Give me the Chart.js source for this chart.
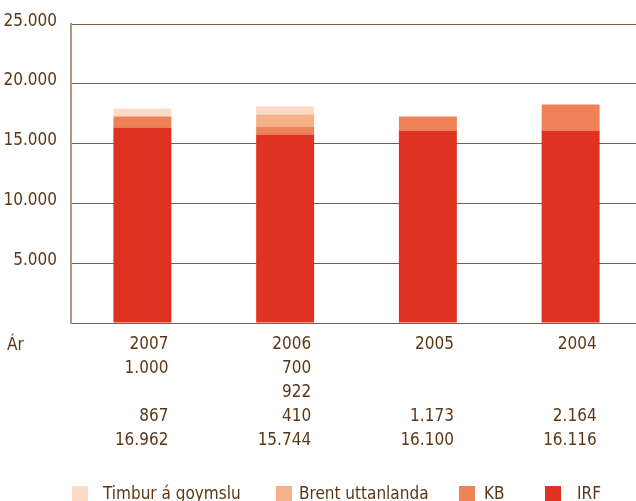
<!DOCTYPE html>
<html>
<head>
<meta charset="utf-8">
<script src="https://cdn.jsdelivr.net/npm/chart.js@4.4.1/dist/chart.umd.min.js"></script>
<style>
  html, body { margin: 0; padding: 0; background: #fff; overflow: hidden; }
  /* a bit wider than the window: the plot runs off the right edge in the original */
  #wrap { width: 642px; height: 501px; position: relative; }
</style>
</head>
<body>
<div id="wrap"><canvas id="myChart"></canvas></div>
<script>
// years, left to right
const years = ['2007', '2006', '2005', '2004'];

// bar heights
const irfValues = [16350, 15770, 16100, 16116];
const kbValues = [930, 670, 1173, 2164];
const brentValues = [0, 1000, 0, 0];
const timburValues = [670, 670, 0, 0];

// the numbers printed in the table under the bars
const timburRow = [1000, 700, null, null];
const brentRow = [null, 922, null, null];
const kbRow = [867, 410, 1173, 2164];
const irfRow = [16962, 15744, 16100, 16116];

const yTicks = [0, 5000, 10000, 15000, 20000, 25000];

const textColor = '#5b3716';
const fontFamily = "'DejaVu Sans Condensed', 'Liberation Sans', sans-serif";
const fontSize = 17;

const fmt = v => (v === null || v === undefined) ? '' : v.toString().replace(/\B(?=(\d{3})+(?!\d))/g, '.');

const labels = years.map((y, i) => [y, fmt(timburRow[i]), fmt(brentRow[i]), fmt(kbRow[i]), fmt(irfRow[i])]);

// legend + "Ár" drawn by hand, the built in legend can't space like this
const legendBoxX = [72, 276, 459, 545];
const legendTextX = [103, 299, 484, 577];

const extraText = {
    id: 'extraText',
    afterDraw(chart) {
        const ctx = chart.ctx;
        ctx.save();
        ctx.font = fontSize + 'px ' + fontFamily;
        ctx.fillStyle = textColor;
        ctx.textBaseline = 'middle';
        ctx.textAlign = 'left';
        ctx.fillText('Ár', 7, chart.scales.x.top + 23);

        const items = chart.data.datasets.slice().reverse();
        items.forEach((ds, i) => {
            ctx.fillStyle = ds.backgroundColor;
            ctx.fillRect(legendBoxX[i], 486, 16, 15);
            ctx.fillStyle = textColor;
            ctx.textBaseline = 'alphabetic';
            ctx.fillText(ds.label, legendTextX[i], 499);
        });
        ctx.restore();
    }
};

const ctx = document.getElementById('myChart').getContext('2d');

const myChart = new Chart(ctx, {
    type: 'bar',
    data: {
        labels: labels,
        datasets: [
            { label: 'IRF', data: irfValues, backgroundColor: '#e03220' },
            { label: 'KB', data: kbValues, backgroundColor: '#ee8156' },
            { label: 'Brent uttanlanda', data: brentValues, backgroundColor: '#f5b28a' },
            { label: 'Timbur á goymslu', data: timburValues, backgroundColor: '#fcdac5' }
        ]
    },
    options: {
        responsive: true,
        maintainAspectRatio: false,
        animation: false,
        layout: { padding: { top: 23, right: 0, left: 0, bottom: 0 } },
        datasets: {
            bar: { categoryPercentage: 1, barPercentage: 0.406 }
        },
        plugins: {
            legend: { display: false },
            tooltip: { enabled: false }
        },
        scales: {
            x: {
                stacked: true,
                grid: { display: false, drawTicks: false },
                border: { display: false },
                afterFit: s => { s.height = 178; },
                ticks: {
                    color: textColor,
                    font: { family: fontFamily, size: fontSize, lineHeight: 24 / fontSize },
                    align: 'end',
                    labelOffset: 26,
                    padding: 10,
                    autoSkip: false,
                    maxRotation: 0
                }
            },
            y: {
                stacked: true,
                min: 0,
                max: 25000,
                afterFit: s => { s.width = 71; },
                afterBuildTicks: s => { s.ticks = yTicks.map(v => ({ value: v })); },
                grid: { color: '#7a5d44', lineWidth: 1, drawTicks: false },
                border: { color: '#ad9a84', width: 2 },
                ticks: {
                    color: textColor,
                    font: { family: fontFamily, size: fontSize },
                    padding: 14,
                    labelOffset: -3,
                    callback: v => v === 0 ? '' : fmt(v)
                }
            }
        }
    },
    plugins: [extraText]
});
</script>
</body>
</html>
